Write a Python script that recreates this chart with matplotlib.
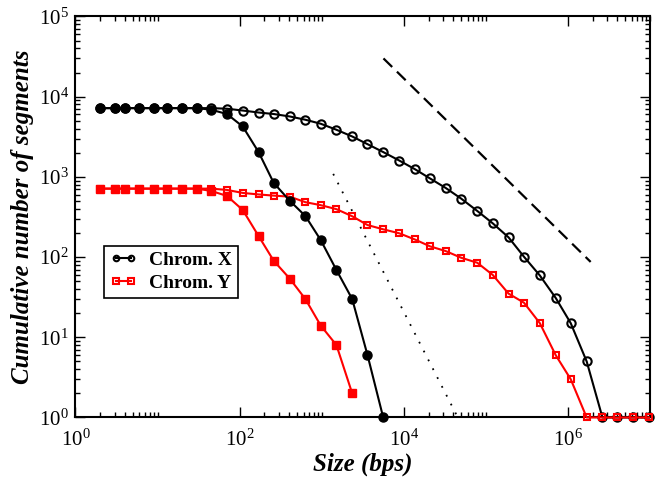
import numpy as np
import matplotlib
matplotlib.use("Agg")
import matplotlib.pyplot as plt
from matplotlib.ticker import FixedLocator, LogFormatterSciNotation, NullFormatter

plt.rcParams["font.family"] = ["Liberation Serif", "DejaVu Serif"]
plt.rcParams["mathtext.fontset"] = "custom"
plt.rcParams["mathtext.rm"] = "Liberation Serif"
plt.rcParams["mathtext.it"] = "Liberation Serif:italic"
plt.rcParams["mathtext.bf"] = "Liberation Serif:bold"

# ---------- data ----------
size_bins = [2, 3, 4, 6, 9, 13, 20, 30, 45, 70, 109, 170, 260, 407, 632, 972,
             1510, 2350, 3610, 5610, 8790, 1.36e4, 2.09e4, 3.23e4, 5.01e4,
             7.85e4, 1.21e5, 1.89e5, 2.91e5, 4.54e5, 7.08e5, 1.08e6, 1.69e6,
             2.63e6, 4.0e6, 6.28e6, 9.72e6]

chrom_x = [7200] * 9 + [7080, 6720, 6350, 6080, 5670, 5160, 4600, 3870, 3190,
                        2560, 2040, 1600, 1250, 955, 729, 535, 376, 264, 176,
                        101, 59, 31, 15, 5, 1, 1, 1, 1]
chrom_x_filled = [7200] * 8 + [6880, 6080, 4250, 2040, 841, 505, 325, 163,
                               69, 30, 6, 1]

chrom_y = [714] * 9 + [688, 631, 604, 584, 567, 484, 444, 396, 323, 251, 222,
                       198, 166, 136, 119, 98, 85, 60, 35, 27, 15, 6, 3, 1, 1,
                       1, 1, 1]
chrom_y_filled = [714] * 8 + [668, 579, 387, 183, 90, 54, 30, 14, 8, 2]

dashed_x, dashed_y = [5650, 1.89e6], [3.0e4, 87]
dotted_x, dotted_y = [1380, 45500], [1090, 1]

# ---------- figure ----------
fig = plt.figure(figsize=(6.64, 4.78), dpi=100)
ax = fig.add_axes([0.1137, 0.1266, 0.979 - 0.1137, 0.9655 - 0.1266])

RED = "#ff0000"
ax.plot(size_bins, chrom_x, "-o", color="black", lw=1.5, ms=6,
        mfc="none", mew=1.5, label="Chrom. X", zorder=3, clip_on=False)
ax.plot(size_bins, chrom_y, "-s", color=RED, lw=1.5, ms=5,
        mfc="none", mew=1.5, label="Chrom. Y", zorder=3, clip_on=False)
ax.plot(size_bins[:len(chrom_x_filled)], chrom_x_filled, "-o", color="black",
        lw=1.5, ms=6.5, zorder=4, clip_on=False)
ax.plot(size_bins[:len(chrom_y_filled)], chrom_y_filled, "-s", color=RED,
        lw=1.5, ms=5.5, zorder=4, clip_on=False)

ax.plot(dashed_x, dashed_y, color="black", lw=1.6, dashes=(5.5, 3), zorder=2)
ax.plot(dotted_x, dotted_y, color="black", lw=1.3, dashes=(1, 4.5), zorder=2)

ax.set_xscale("log")
ax.set_yscale("log")
ax.set_xlim(1, 1e7)
ax.set_ylim(1, 1e5)

ax.xaxis.set_major_locator(FixedLocator([1, 1e2, 1e4, 1e6]))
ax.xaxis.set_minor_locator(FixedLocator(
    [k * 10.0 ** (2 * m) for m in range(4) for k in range(2, 11)]))
ax.xaxis.set_major_formatter(LogFormatterSciNotation())
ax.xaxis.set_minor_formatter(NullFormatter())
ax.yaxis.set_major_locator(FixedLocator([10.0 ** i for i in range(6)]))
ax.yaxis.set_minor_locator(FixedLocator(
    [k * 10.0 ** m for m in range(5) for k in range(2, 10)]))
ax.yaxis.set_major_formatter(LogFormatterSciNotation())
ax.yaxis.set_minor_formatter(NullFormatter())

ax.tick_params(which="both", direction="in", top=True, right=True,
               width=1.0, labelsize=15)
ax.tick_params(which="major", length=7.5)
ax.tick_params(which="minor", length=3.6)
ax.tick_params(axis="x", which="major", pad=9)
ax.tick_params(axis="y", which="major", pad=5)
for s in ax.spines.values():
    s.set_linewidth(1.5)

ax.set_xlabel("Size (bps)", fontsize=18, fontweight="bold", style="italic",
              labelpad=1)
ax.set_ylabel("Cumulative number of segments", fontsize=18,
              fontweight="bold", style="italic", labelpad=3)

leg = ax.legend(loc="upper left", bbox_to_anchor=(0.0496, 0.428),
                borderaxespad=0, numpoints=2, handlelength=1.4,
                handletextpad=0.6, borderpad=0.3, labelspacing=0.25,
                fancybox=False, framealpha=1,
                prop={"family": "Liberation Serif", "weight": "bold",
                      "size": 14})
leg.get_frame().set_edgecolor("black")
leg.get_frame().set_linewidth(1.2)
for h in leg.legend_handles:
    h.set_markersize(4)
    h.set_markeredgewidth(1.5)

fig.savefig("out.png", dpi=100)
